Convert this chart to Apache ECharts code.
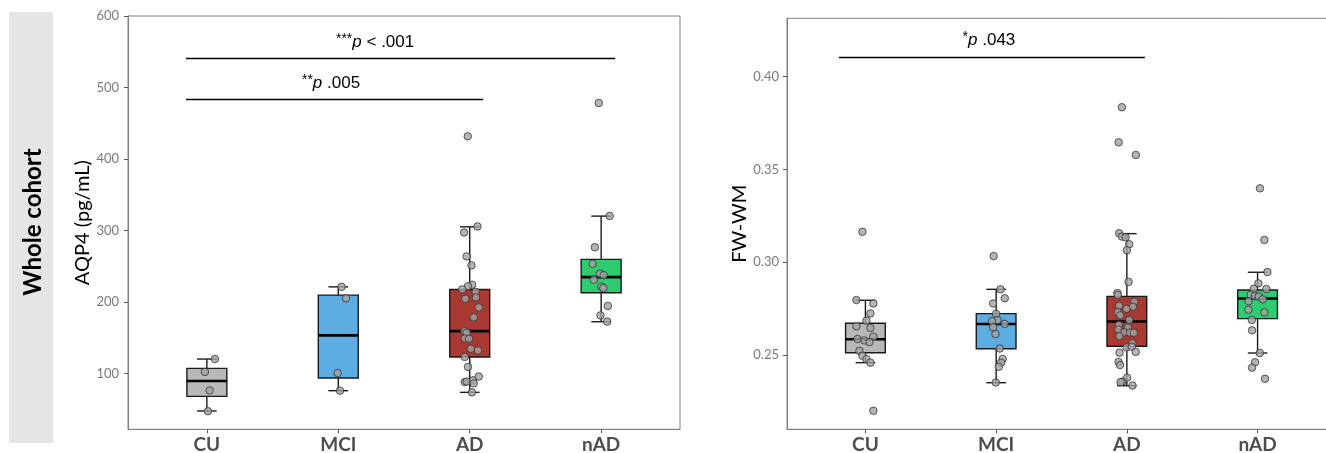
<!DOCTYPE html>
<html><head><meta charset="utf-8">
<script src="https://cdn.jsdelivr.net/npm/echarts@6/dist/echarts.min.js"></script>
<style>html,body{margin:0;padding:0;background:#fff}#c{width:1326px;height:453px}</style>
</head><body><div id="c"></div>
<script>
// ---------- data ----------
const categories = ['CU', 'MCI', 'AD', 'nAD'];
const boxColors = ['#b8b8b8', '#5dade2', '#a93a32', '#2ecc71'];
const aqp4Ticks = [100, 200, 300, 400, 500, 600];
const fwTicks = [0.25, 0.30, 0.35, 0.40];

// box stats: [lower whisker, Q1, median, Q3, upper whisker]
const aqp4Box = [
  [47.3, 67.8, 89.2, 107, 120],
  [75.7, 93.4, 153.1, 209.5, 221],
  [73.4, 122.8, 159.1, 217.4, 305],
  [172.2, 212.7, 234.6, 259.4, 320]
];
const fwBox = [
  [0.2459, 0.2512, 0.2585, 0.2671, 0.2795],
  [0.2351, 0.2534, 0.2667, 0.2723, 0.2854],
  [0.2335, 0.2547, 0.2681, 0.2816, 0.3154],
  [0.2511, 0.2696, 0.2805, 0.2850, 0.2946]
];

// jittered points: [horizontal jitter (category units), value]
const aqp4CU = [[0.061, 120], [-0.015, 102], [0.021, 76], [0.008, 47]];
const aqp4MCI = [[0.025, 221], [0.059, 205], [-0.005, 100.4], [0.013, 75.7]];
const aqp4AD = [[-0.015, 431.7], [0.059, 305.5], [-0.043, 297.1], [-0.023, 263.6], [0.013, 251],
  [0.018, 224], [-0.013, 222], [-0.057, 217.4], [0.045, 214], [-0.033, 204.3], [0.048, 206.2],
  [0.069, 192.3], [0.031, 178.3], [-0.040, 158.8], [-0.023, 156.8], [-0.038, 148.9], [-0.005, 148.4],
  [0.008, 134.4], [0.063, 132.1], [-0.038, 123], [-0.013, 109], [0.069, 95.5], [-0.038, 87.8],
  [-0.023, 88.5], [0.025, 90.2], [0.030, 86], [0.017, 73.4]];
const aqp4nAD = [[-0.018, 478.3], [0.065, 320.2], [-0.048, 276.4], [-0.065, 253.2], [-0.009, 239.5],
  [0.019, 237.4], [-0.056, 231], [0.002, 221.2], [0.017, 219.2], [0.051, 194.3], [-0.005, 181], [0.046, 172.4]];

const fwCU = [[-0.023, 0.3164], [-0.069, 0.2796], [0.061, 0.2778], [0.038, 0.2724], [0.008, 0.2685],
  [-0.069, 0.2655], [0.038, 0.2646], [0.061, 0.2599], [-0.061, 0.2586], [-0.008, 0.2579], [0.031, 0.2570],
  [-0.046, 0.2523], [-0.023, 0.2496], [0.008, 0.2478], [0.038, 0.2459], [0.061, 0.2200]];
const fwMCI = [[-0.019, 0.3033], [0.033, 0.2854], [0.066, 0.2806], [-0.023, 0.2778], [0, 0.2722],
  [0.011, 0.2688], [-0.031, 0.2682], [0.065, 0.2668], [-0.023, 0.2650], [-0.005, 0.2613], [0.028, 0.2535],
  [0.050, 0.2479], [0.038, 0.2459], [0.020, 0.2437], [-0.003, 0.2352]];
const fwAD = [[-0.038, 0.3835], [-0.063, 0.3646], [0.069, 0.3578], [-0.059, 0.3156], [-0.037, 0.3138],
  [-0.009, 0.3134], [0.018, 0.3097], [0, 0.3065], [0.013, 0.2894], [-0.073, 0.2834], [-0.069, 0.2824],
  [0.057, 0.2787], [-0.059, 0.2766], [0.046, 0.2760], [-0.003, 0.2749], [-0.069, 0.2731], [-0.050, 0.2714],
  [0.018, 0.2689], [-0.061, 0.2662], [0.008, 0.2649], [-0.064, 0.2637], [-0.020, 0.2622], [0.023, 0.2621],
  [0.053, 0.2620], [-0.057, 0.2602], [0.042, 0.2563], [-0.002, 0.2541], [0.038, 0.2545], [0.068, 0.2517],
  [-0.056, 0.2513], [-0.064, 0.2463], [-0.052, 0.2446], [0.002, 0.2378], [-0.034, 0.2357], [-0.048, 0.2354],
  [0.043, 0.2336]];
const fwnAD = [[0.018, 0.3398], [0.052, 0.3120], [0.075, 0.2947], [0.006, 0.2886], [-0.029, 0.2857],
  [0.067, 0.2856], [-0.053, 0.2825], [-0.021, 0.2818], [0.009, 0.2815], [0.040, 0.2800], [-0.069, 0.2790],
  [-0.070, 0.2744], [0.052, 0.2730], [-0.044, 0.2689], [-0.042, 0.2633], [0.017, 0.2511], [-0.019, 0.2461],
  [-0.042, 0.2432], [0.057, 0.2372]];

// significance brackets: [xStart, xEnd, yLine, xText, yText]
const aqp4Sig = [[0.841, 4.106, 541, 2.28, 563.6], [0.841, 3.102, 483.5, 1.945, 505.8]];
const aqp4SigText = [['***', ' < .001'], ['**', ' .005']];
const fwSig = [[0.797, 3.138, 0.4107, 1.945, 0.4197]];
const fwSigText = [['*', ' .043']];

// ---------- chart ----------
const FONT = 'Lato';
function boxData(stats) { return stats.map((s, i) => [i + 1].concat(s)); }
function pointData(groups) {
  const out = [];
  groups.forEach((g, i) => g.forEach(p => out.push([i + 1 + p[0], p[1]])));
  return out;
}
function boxRenderer(params, api) {
  const x = api.value(0);
  const lo = api.value(1), q1 = api.value(2), med = api.value(3), q3 = api.value(4), hi = api.value(5);
  const hw = 0.152, cw = 0.075;
  const tl = api.coord([x - hw, q3]), br = api.coord([x + hw, q1]);
  const m = api.coord([x, med]);
  const pHi = api.coord([x, hi]), pLo = api.coord([x, lo]);
  const cl = api.coord([x - cw, hi])[0], cr = api.coord([x + cw, hi])[0];
  const st = { stroke: '#1a1a1a', lineWidth: 1.4 };
  return { type: 'group', children: [
    { type: 'line', shape: { x1: pHi[0], y1: pHi[1], x2: pHi[0], y2: tl[1] }, style: st },
    { type: 'line', shape: { x1: pLo[0], y1: br[1], x2: pLo[0], y2: pLo[1] }, style: st },
    { type: 'line', shape: { x1: cl, y1: pHi[1], x2: cr, y2: pHi[1] }, style: st },
    { type: 'line', shape: { x1: cl, y1: pLo[1], x2: cr, y2: pLo[1] }, style: st },
    { type: 'rect', shape: { x: tl[0], y: tl[1], width: br[0] - tl[0], height: br[1] - tl[1] },
      style: { fill: boxColors[params.dataIndex], stroke: '#1a1a1a', lineWidth: 1.4 } },
    { type: 'line', shape: { x1: tl[0], y1: m[1], x2: br[0], y2: m[1] }, style: { stroke: '#000', lineWidth: 2.6 } }
  ]};
}
function sigRenderer(texts) {
  return function (params, api) {
    const a = api.coord([api.value(0), api.value(2)]);
    const b = api.coord([api.value(1), api.value(2)]);
    const t = api.coord([api.value(3), api.value(4)]);
    const s = texts[params.dataIndex];
    const yl = Math.round(a[1]) + 0.5;
    return { type: 'group', children: [
      { type: 'line', shape: { x1: a[0], y1: yl, x2: b[0], y2: yl }, style: { stroke: '#000', lineWidth: 1.3 } },
      { type: 'text', x: t[0], y: t[1], style: {
          text: '{s|' + s[0] + '}{i|p}{n|' + s[1] + '}',
          align: 'center', verticalAlign: 'middle',
          rich: {
            s: { fontSize: 14, fontFamily: 'Liberation Sans', fill: '#000', verticalAlign: 'top', lineHeight: 14 },
            i: { fontSize: 17, fontFamily: 'Liberation Sans', fontStyle: 'italic', fill: '#000', lineHeight: 20 },
            n: { fontSize: 17, fontFamily: 'Liberation Sans', fill: '#000', lineHeight: 20 }
          }
      } }
    ]};
  };
}
function xAxisCfg(gi) {
  return {
    type: 'value', gridIndex: gi, min: 0.4, max: 4.6,
    axisLine: { show: true, onZero: false, lineStyle: { color: '#7f7f7f', width: 1 } },
    axisTick: { show: true, customValues: [1, 2, 3, 4], length: 4, lineStyle: { color: '#555' } },
    axisLabel: { customValues: [1, 2, 3, 4], formatter: v => categories[Math.round(v) - 1],
      fontSize: 19, fontWeight: 'bold', color: '#4d4d4d', fontFamily: FONT, margin: 6 },
    splitLine: { show: false }
  };
}
function yAxisCfg(gi, min, max, ticks, name, fmt, margin) {
  return {
    type: 'value', gridIndex: gi, min: min, max: max,
    name: name, nameLocation: 'middle', nameGap: 35,
    nameTextStyle: { fontSize: 20, fontFamily: FONT, color: '#000' },
    axisLine: { show: true, onZero: false, lineStyle: { color: '#7f7f7f', width: 1 } },
    axisTick: { show: true, customValues: ticks, length: 4, lineStyle: { color: '#555' } },
    axisLabel: { customValues: ticks, formatter: fmt, fontSize: 13, color: '#7a7a7a', fontFamily: FONT, margin: margin },
    splitLine: { show: false }
  };
}
const pointStyle = { color: '#a3a3a3', borderColor: '#333', borderWidth: 1 };

const chart = echarts.init(document.getElementById('c'), null, { renderer: 'canvas' });
chart.setOption({
  animation: false,
  backgroundColor: '#fff',
  grid: [
    { left: 128, top: 16, width: 552, height: 413.3, show: true, borderColor: '#7f7f7f', borderWidth: 1,
      backgroundColor: 'transparent', outerBoundsMode: 'none', containLabel: false },
    { left: 787, top: 18.3, width: 549, height: 411, show: true, borderColor: '#7f7f7f', borderWidth: 1,
      backgroundColor: 'transparent', outerBoundsMode: 'none', containLabel: false }
  ],
  xAxis: [xAxisCfg(0), xAxisCfg(1)],
  yAxis: [
    yAxisCfg(0, 21.7, 600, aqp4Ticks, 'AQP4 (pg/mL)', v => String(v), 9),
    yAxisCfg(1, 0.21, 0.4314, fwTicks, 'FW-WM', v => v.toFixed(2), 8)
  ],
  graphic: [
    { type: 'rect', shape: { x: 9, y: 12, width: 44, height: 431 }, style: { fill: '#e5e5e5' }, silent: true },
    { type: 'text', x: 33, y: 222, rotation: Math.PI / 2,
      style: { text: 'Whole cohort', fontSize: 24, fontWeight: 'bold', fontFamily: FONT, fill: '#000', align: 'center', verticalAlign: 'middle' } }
  ],
  series: [
    { type: 'custom', xAxisIndex: 0, yAxisIndex: 0, renderItem: boxRenderer, data: boxData(aqp4Box), z: 2 },
    { type: 'scatter', xAxisIndex: 0, yAxisIndex: 0, symbolSize: 7.5, itemStyle: pointStyle, z: 3,
      data: pointData([aqp4CU, aqp4MCI, aqp4AD, aqp4nAD]) },
    { type: 'custom', xAxisIndex: 0, yAxisIndex: 0, renderItem: sigRenderer(aqp4SigText), data: aqp4Sig, z: 4 },
    { type: 'custom', xAxisIndex: 1, yAxisIndex: 1, renderItem: boxRenderer, data: boxData(fwBox), z: 2, clip: false },
    { type: 'scatter', xAxisIndex: 1, yAxisIndex: 1, symbolSize: 7.5, itemStyle: pointStyle, z: 3,
      data: pointData([fwCU, fwMCI, fwAD, fwnAD]) },
    { type: 'custom', xAxisIndex: 1, yAxisIndex: 1, renderItem: sigRenderer(fwSigText), data: fwSig, z: 4 }
  ]
});
</script></body></html>
